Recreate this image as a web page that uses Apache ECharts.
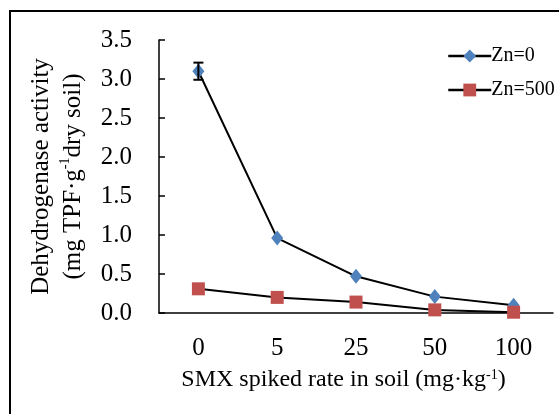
<!DOCTYPE html>
<html>
<head>
<meta charset="utf-8">
<script src="https://cdn.jsdelivr.net/npm/echarts@6/dist/echarts.min.js"></script>
<style>
  html, body { margin: 0; padding: 0; background: #fff; }
  #main { width: 559px; height: 414px; }
</style>
</head>
<body>
<div id="main"></div>
<script>
var categories = ['0', '5', '25', '50', '100'];
var zn0 = [3.1, 0.96, 0.47, 0.21, 0.1];
var zn500 = [0.31, 0.2, 0.14, 0.04, 0.01];
// error bar only visible on the first Zn=0 point
var zn0Err = [0.11, 0, 0, 0, 0];

var serif = '"Liberation Serif", "Times New Roman", serif';

var chart = echarts.init(document.getElementById('main'));

var errData = zn0.map(function (v, i) {
    return [i, v - zn0Err[i], v + zn0Err[i]];
}).filter(function (d) { return d[2] - d[1] > 0; });

var option = {
    animation: false,
    textStyle: { fontFamily: serif, color: '#000' },
    graphic: [{
        type: 'rect',
        shape: { x: 10, y: 11, width: 600, height: 500 },
        style: { fill: 'none', stroke: '#000', lineWidth: 2 },
        silent: true
    }],
    grid: { left: 159, top: 40, right: 6, bottom: 101 },
    legend: {
        orient: 'vertical',
        left: 442,
        top: 41,
        itemWidth: 43,
        itemHeight: 16,
        itemGap: 14,
        lineStyle: { color: '#000', width: 2.5 },
        textStyle: { fontFamily: serif, fontSize: 20, color: '#000', padding: [0, 0, 0, -5] },
        data: ['Zn=0', 'Zn=500']
    },
    xAxis: {
        type: 'category',
        data: categories,
        boundaryGap: true,
        axisLine: { lineStyle: { color: '#000', width: 1.5 } },
        axisTick: { inside: true, length: 9, lineStyle: { color: '#000', width: 1.5 } },
        axisLabel: { fontFamily: serif, fontSize: 25, color: '#000', margin: 23 },
        name: 'SMX spiked rate in soil (mg·kg{s|-1})',
        nameLocation: 'middle',
        nameGap: 55,
        nameTextStyle: {
            fontFamily: serif, fontSize: 24, color: '#000', padding: [0, 25, 0, 0],
            rich: { s: { fontFamily: serif, fontSize: 14, verticalAlign: 'top', color: '#000', padding: [0, 0, 10, 0] } }
        }
    },
    yAxis: {
        type: 'value',
        min: 0,
        max: 3.5,
        interval: 0.5,
        splitLine: { show: false },
        axisLine: { show: true, lineStyle: { color: '#000', width: 1.5 } },
        axisTick: { show: true, inside: true, length: 6, lineStyle: { color: '#000', width: 1.5 } },
        axisLabel: {
            fontFamily: serif, fontSize: 25, color: '#000', margin: 27,
            formatter: function (v) { return v.toFixed(1); }
        },
        name: '{a|Dehydrogenase activity}\n{a|(mg TPF·g}{s|-1}{a|dry soil)}',
        nameLocation: 'middle',
        nameRotate: 90,
        nameGap: 69,
        nameTextStyle: {
            fontFamily: serif, color: '#000', lineHeight: 32,
            rich: {
                a: { fontFamily: serif, fontSize: 25, color: '#000', lineHeight: 32 },
                s: { fontFamily: serif, fontSize: 14, color: '#000', verticalAlign: 'top', lineHeight: 32, padding: [0, 0, 10, 0] }
            }
        }
    },
    series: [
        {
            name: 'Zn=0',
            type: 'line',
            data: zn0,
            symbol: 'diamond',
            symbolSize: [12, 15],
            itemStyle: { color: '#4F81BD' },
            lineStyle: { color: '#000', width: 2 },
            z: 3
        },
        {
            name: 'Zn=500',
            type: 'line',
            data: zn500,
            symbol: 'rect',
            symbolSize: 13,
            itemStyle: { color: '#C0504D' },
            lineStyle: { color: '#000', width: 2 },
            z: 4
        },
        {
            name: 'err',
            type: 'custom',
            data: errData,
            z: 5,
            renderItem: function (params, api) {
                var lo = api.coord([api.value(0), api.value(1)]);
                var hi = api.coord([api.value(0), api.value(2)]);
                var hw = 5;
                var st = { stroke: '#000', lineWidth: 2 };
                return {
                    type: 'group',
                    children: [
                        { type: 'line', shape: { x1: lo[0], y1: lo[1], x2: hi[0], y2: hi[1] }, style: st },
                        { type: 'line', shape: { x1: lo[0] - hw, y1: lo[1], x2: lo[0] + hw, y2: lo[1] }, style: st },
                        { type: 'line', shape: { x1: hi[0] - hw, y1: hi[1], x2: hi[0] + hw, y2: hi[1] }, style: st }
                    ]
                };
            }
        }
    ]
};

chart.setOption(option);
</script>
</body>
</html>
